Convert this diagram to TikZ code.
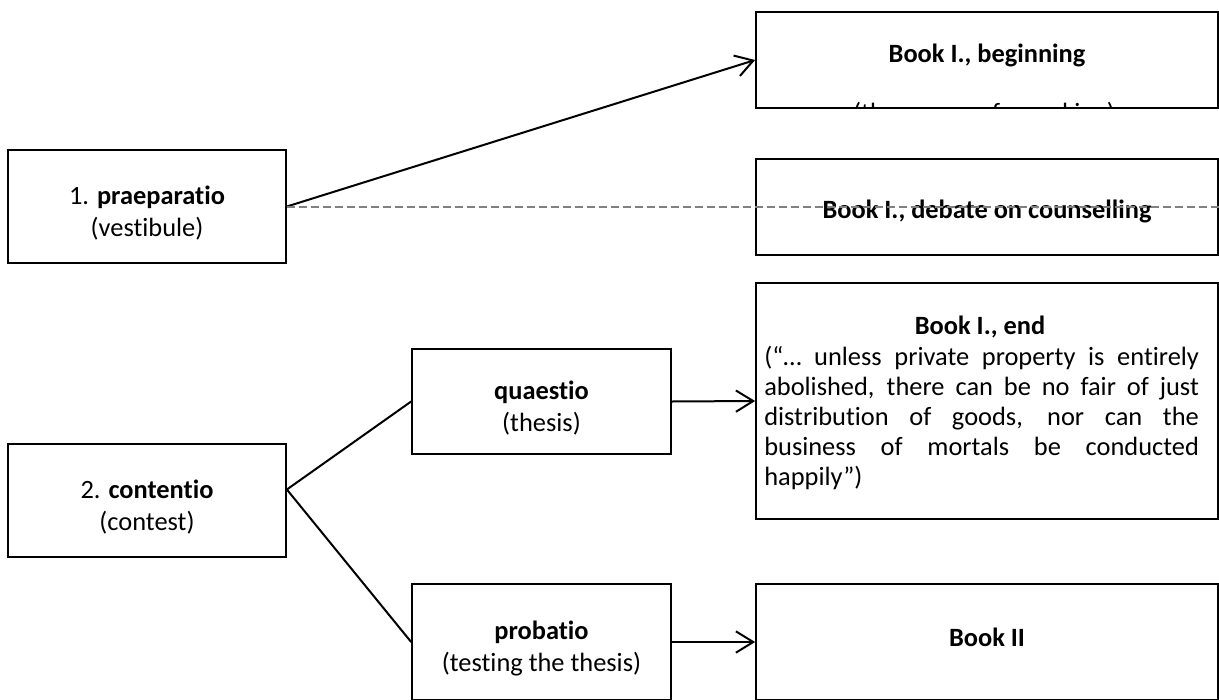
\documentclass[tikz,border=0pt]{standalone}
\usepackage{fontspec}
\setmainfont{Carlito}[Ligatures=NoCommon]
\usetikzlibrary{arrows.meta}
\newcommand\bxfont{\fontsize{19.8}{24}\selectfont}
\newcommand\bodyfont{\fontsize{19.8}{22.5}\selectfont}
\newcommand\tstrut{\rule{0pt}{24pt}}
\definecolor{dashgray}{RGB}{128,128,128}
\begin{document}
\begin{tikzpicture}[x=0.75pt,y=-0.75pt,
  box/.style={draw, line width=1.3pt, inner sep=0pt, align=center, font=\bxfont},
  leftbox/.style={box, minimum width=208.5pt, minimum height=84.75pt},
  midbox/.style={box, minimum width=194.25pt},
  rightbox/.style={box, minimum width=346.5pt},
  txt/.style={inner sep=0pt, font=\bxfont},
  conn/.style={line width=1.5pt},
  arr/.style={conn, -{Straight Barb[length=13pt,width=16pt]}},
  dashline/.style={line width=1.5pt, dashgray, dash pattern=on 6pt off 3pt},
]
\useasboundingbox (0,0) rectangle (1219,699);
\clip (0,0) rectangle (1219,699);

% left column
\node[leftbox] (prae) at (147,206.5) {\tstrut1. \textbf{praeparatio}\\(vestibule)};
\node[leftbox] (cont) at (147,500.5) {\tstrut2. \textbf{contentio}\\(contest)};

% middle column
\node[midbox, minimum height=78.75pt] (quaes) at (541.5,401.5) {\tstrut\textbf{quaestio}\\(thesis)};
\node[midbox, minimum height=87pt] (prob) at (541.5,642) {\tstrut\textbf{probatio}\\(testing the thesis)};

% right column
\node[rightbox, minimum height=72pt] (beg) at (987,60) {};
\node[rightbox, minimum height=72pt] (deb) at (987,207) {\rule{0pt}{21pt}\textbf{Book I., debate on counselling}};
\node[rightbox, minimum height=177pt] (endb) at (987,401) {};
\node[rightbox, minimum height=87pt] (b2) at (987,642) {};

\node[txt] (begt) at (987,55) {\textbf{Book I., beginning}};
\begin{scope}
  \clip ([xshift=0.65pt,yshift=-0.65pt]beg.north west) rectangle ([xshift=-0.65pt,yshift=0.65pt]beg.south east);
  \node[txt, anchor=base] (begsub) at (984,121) {(the reasons for making)};
\end{scope}

\node[txt] (endt) at (980,327) {\textbf{Book I., end}};
\node[inner sep=0pt, anchor=north west, align=left, font=\bodyfont] (endbody) at (764,346) {%
\makebox[326pt][s]{(“… unless private property is entirely}\\
\makebox[326pt][s]{abolished, there can be no fair of just}\\
\makebox[326pt][s]{distribution of goods, nor can the}\\
\makebox[326pt][s]{business of mortals be conducted}\\
happily”)};

\node[txt] (b2t) at (987,637) {\textbf{Book II}};

% connectors
\coordinate (dashend) at (1219,206.5);
\draw[arr] (prae.east) -- (beg.west);
\draw[conn] ([yshift=8.25pt]cont.east) -- (quaes.west);
\draw[conn] ([yshift=8.25pt]cont.east) -- (prob.west);
\draw[arr] (quaes.east) -- (endb.west);
\draw[arr] (prob.east) -- (b2.west);
\draw[dashline] (prae.east) -- (dashend);
\end{tikzpicture}
\end{document}
